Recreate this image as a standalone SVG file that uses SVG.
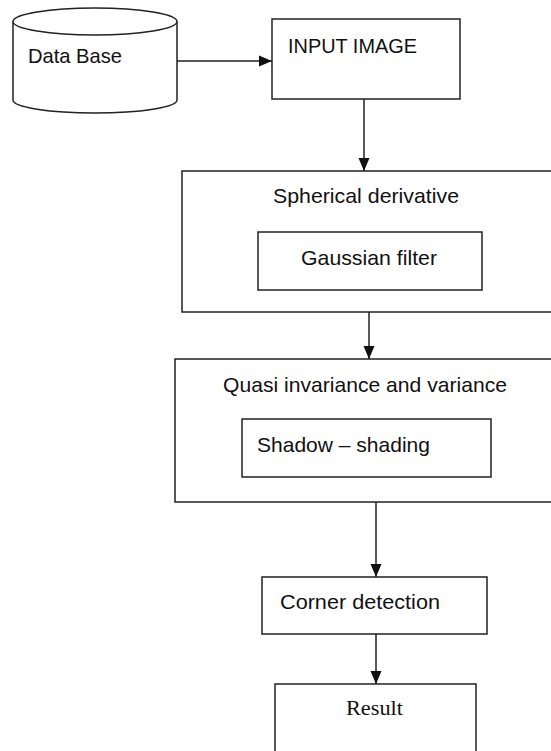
<svg xmlns="http://www.w3.org/2000/svg" width="551" height="751" viewBox="0 0 551 751">
<style>
.box{fill:#fff;stroke:#222;stroke-width:1.5}
.ln{fill:none;stroke:#222;stroke-width:1.5}
.t{font-family:"Liberation Sans",Arial,sans-serif;font-size:21px;fill:#111}
.s{font-family:"Liberation Serif","Times New Roman",serif;font-size:22px;fill:#111}
</style>
<defs>
<marker id="ah" markerUnits="userSpaceOnUse" markerWidth="14" markerHeight="12" viewBox="0 0 14 12" refX="13" refY="6" orient="auto">
<path d="M0,0.5 L13,6 L0,11.5 Z" fill="#111"/>
</marker>
</defs>
<rect width="551" height="751" fill="#fff"/>
<g id="database">
<path class="box" d="M13,21.5 L13,100 A82,13 0 0 0 177,100 L177,21.5"/>
<ellipse class="box" cx="95" cy="21.5" rx="82" ry="13.5"/>
<text class="t" x="28" y="63" textLength="94" lengthAdjust="spacingAndGlyphs">Data Base</text>
</g>
<g id="input">
<rect class="box" x="272" y="19" width="188" height="80"/>
<text class="t" x="288" y="53" textLength="129" lengthAdjust="spacingAndGlyphs">INPUT IMAGE</text>
</g>
<g id="spherical">
<rect class="box" x="182" y="171" width="380" height="141"/>
<text class="t" x="273" y="203" textLength="186" lengthAdjust="spacingAndGlyphs">Spherical derivative</text>
<rect class="box" x="258" y="232" width="224" height="58"/>
<text class="t" x="301" y="265" textLength="136" lengthAdjust="spacingAndGlyphs">Gaussian filter</text>
</g>
<g id="quasi">
<rect class="box" x="175" y="359" width="387" height="143"/>
<text class="t" x="223" y="392" textLength="284" lengthAdjust="spacingAndGlyphs">Quasi invariance and variance</text>
<rect class="box" x="242" y="419" width="249" height="58"/>
<text class="t" x="257" y="452" textLength="173" lengthAdjust="spacingAndGlyphs">Shadow – shading</text>
</g>
<g id="corner">
<rect class="box" x="262" y="577" width="225" height="57"/>
<text class="t" x="280" y="609" textLength="160" lengthAdjust="spacingAndGlyphs">Corner detection</text>
</g>
<g id="result">
<rect class="box" x="275" y="684" width="201" height="80"/>
<text class="s" x="346" y="715" textLength="57" lengthAdjust="spacingAndGlyphs">Result</text>
</g>
<g id="connectors">
<line class="ln" x1="177" y1="61" x2="272" y2="61" marker-end="url(#ah)"/>
<line class="ln" x1="364" y1="99" x2="364" y2="171" marker-end="url(#ah)"/>
<line class="ln" x1="369" y1="312" x2="369" y2="359" marker-end="url(#ah)"/>
<line class="ln" x1="376" y1="502" x2="376" y2="577" marker-end="url(#ah)"/>
<line class="ln" x1="376" y1="634" x2="376" y2="684" marker-end="url(#ah)"/>
</g>
</svg>
